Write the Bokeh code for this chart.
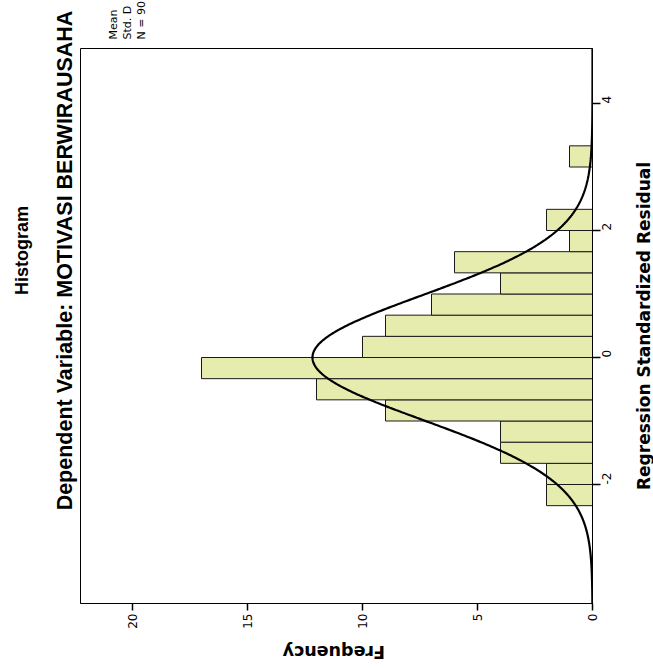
import math
import numpy as np
from bokeh.plotting import figure
from bokeh.models import Range1d, Label, FixedTicker
from bokeh.layouts import column, row
from bokeh.embed import file_html
from bokeh.resources import INLINE

# ---- data ----
bin_low = [-7/3, -2.0, -5/3, -4/3, -1.0, -2/3, -1/3, 0.0, 1/3, 2/3, 1.0, 4/3, 5/3, 2.0, 7/3, 8/3, 3.0]
bin_high = [-2.0, -5/3, -4/3, -1.0, -2/3, -1/3, 0.0, 1/3, 2/3, 1.0, 4/3, 5/3, 2.0, 7/3, 8/3, 3.0, 10/3]
counts = [2, 2, 4, 4, 9, 12, 17, 10, 9, 7, 4, 6, 1, 2, 0, 0, 1]
freq_ticks = [0, 5, 10, 15, 20]
resid_ticks = [-2, 0, 2, 4]
stat_mean = 0.0
stat_sd = 0.983
stat_n = 90
bin_width = 1/3
title_main = "Histogram"
title_sub = "Dependent Variable: MOTIVASI BERWIRAUSAHA"
stats_text = ["Mean", "Std. D", "N = 90"]
x_title = "Regression Standardized Residual"
y_title = "Frequency"

# ---- page layout (pixels of the 653 x 669 picture) ----
W, H = 653, 669
BOX_L, BOX_R, BOX_T, BOX_B = 80, 592, 48, 603
MAIN_R, MAIN_B = 625, 640          # right / bottom end of the main figure

X0, PXF = 592.0, 23.0      # freq 0 at x=592, 23 px per unit
Y0, PXR = 357.0, 63.5      # resid 0 at y=357, 63.5 px per unit
def fx(X):
    return (X0 - X) / PXF
def fy(Y):
    return (Y0 - Y) / PXR


def aux(width, height, xr, yr):
    f = figure(width=width, height=height, x_range=Range1d(*xr), y_range=Range1d(*yr),
               x_axis_location=None, y_axis_location=None,
               toolbar_location=None, output_backend="svg", title=None,
               min_border_left=0, min_border_right=0, min_border_top=0, min_border_bottom=0)
    f.outline_line_color = None
    f.xgrid.visible = False
    f.ygrid.visible = False
    f.background_fill_color = "white"
    f.border_fill_color = "white"
    return f


# left strip: titles (page x 0..80, y 0..669)
left = aux(BOX_L, H, (0, BOX_L), (H, 0))
left.add_layout(Label(x=21, y=250, text=title_main, angle=math.pi / 2,
                      text_font="Liberation Sans", text_font_style="bold",
                      text_font_size="18px", text_align="center", text_baseline="middle",
                      text_color="black"))
left.add_layout(Label(x=64, y=260, text=title_sub, angle=math.pi / 2,
                      text_font="Liberation Sans", text_font_style="bold",
                      text_font_size="21.5px", text_align="center", text_baseline="middle",
                      text_color="black"))

# top strip: statistics legend (page x 80..653, y 0..48)
top = aux(W - BOX_L, BOX_T, (BOX_L, W), (BOX_T, 0))
for txt, X in zip(stats_text, [112.5, 126.5, 140.5]):
    top.add_layout(Label(x=X, y=39, text=txt, angle=math.pi / 2,
                         text_font="DejaVu Sans", text_font_size="11px",
                         text_align="left", text_baseline="middle", text_color="black"))

# main histogram (page x 80..625, y 48..640)
p = figure(width=MAIN_R - BOX_L, height=MAIN_B - BOX_T,
           x_range=Range1d(fx(BOX_L), fx(BOX_R)),
           y_range=Range1d(fy(BOX_B), fy(BOX_T)),
           x_axis_location="below", y_axis_location="right",
           toolbar_location=None, output_backend="svg", title=None,
           min_border_left=0, min_border_right=MAIN_R - BOX_R,
           min_border_top=0, min_border_bottom=MAIN_B - BOX_B)
p.background_fill_color = "white"
p.border_fill_color = "white"
p.outline_line_color = "black"
p.outline_line_width = 1
p.xgrid.visible = False
p.ygrid.visible = False

sel = [i for i, c in enumerate(counts) if c > 0]
p.quad(left=[0] * len(sel), right=[counts[i] for i in sel],
       bottom=[bin_low[i] for i in sel], top=[bin_high[i] for i in sel],
       fill_color="#e6ecae", line_color="#1a1a1a", line_width=1)

ys = np.linspace(fy(BOX_B), fy(BOX_T), 500)
xs = stat_n * bin_width * np.exp(-0.5 * ((ys - stat_mean) / stat_sd) ** 2) / (stat_sd * math.sqrt(2 * math.pi))
p.line(xs, ys, line_color="black", line_width=2.2)

xa = p.xaxis[0]
xa.ticker = FixedTicker(ticks=freq_ticks)
xa.major_label_orientation = math.pi / 2
xa.major_tick_out = 7
xa.major_tick_in = 0
xa.minor_tick_out = 0
xa.minor_tick_in = 0
xa.major_label_standoff = 3
xa.major_label_text_font = "DejaVu Sans"
xa.major_label_text_font_size = "12px"
xa.major_label_text_color = "black"
xa.axis_line_color = "black"
xa.major_tick_line_color = "black"
xa.major_tick_line_width = 1.5

ya = p.yaxis[0]
ya.ticker = FixedTicker(ticks=resid_ticks)
ya.major_label_overrides = {-2: "-2"}
ya.major_label_orientation = math.pi / 2
ya.major_tick_out = 8
ya.major_tick_in = 0
ya.minor_tick_out = 0
ya.minor_tick_in = 0
ya.major_label_standoff = 6
ya.major_label_text_font = "DejaVu Sans"
ya.major_label_text_font_size = "12px"
ya.major_label_text_color = "black"
ya.axis_line_color = "black"
ya.major_tick_line_color = "black"
ya.major_tick_line_width = 1.5

# bottom strip: "Frequency" (page x 80..625, y 640..669), upside down
bottom = aux(MAIN_R - BOX_L, H - MAIN_B, (BOX_L, MAIN_R), (H, MAIN_B))
bottom.add_layout(Label(x=349.5, y=651, text=y_title, angle=math.pi,
                        text_font="DejaVu Sans", text_font_style="bold",
                        text_font_size="17.5px", text_align="center", text_baseline="middle",
                        text_color="black"))

# right strip: residual axis title (page x 625..653, y 48..669)
right = aux(W - MAIN_R, H - BOX_T, (MAIN_R, W), (fy(H), fy(BOX_T)))
right.add_layout(Label(x=643, y=fy(325.5), text=x_title, angle=math.pi / 2,
                       text_font="DejaVu Sans", text_font_style="bold",
                       text_font_size="17px", text_align="center", text_baseline="middle",
                       text_color="black"))

layout = row(left,
             column(top,
                    row(column(p, bottom, spacing=0), right, spacing=0),
                    spacing=0),
             spacing=0)
open("out.html", "w").write(file_html(layout, INLINE))
